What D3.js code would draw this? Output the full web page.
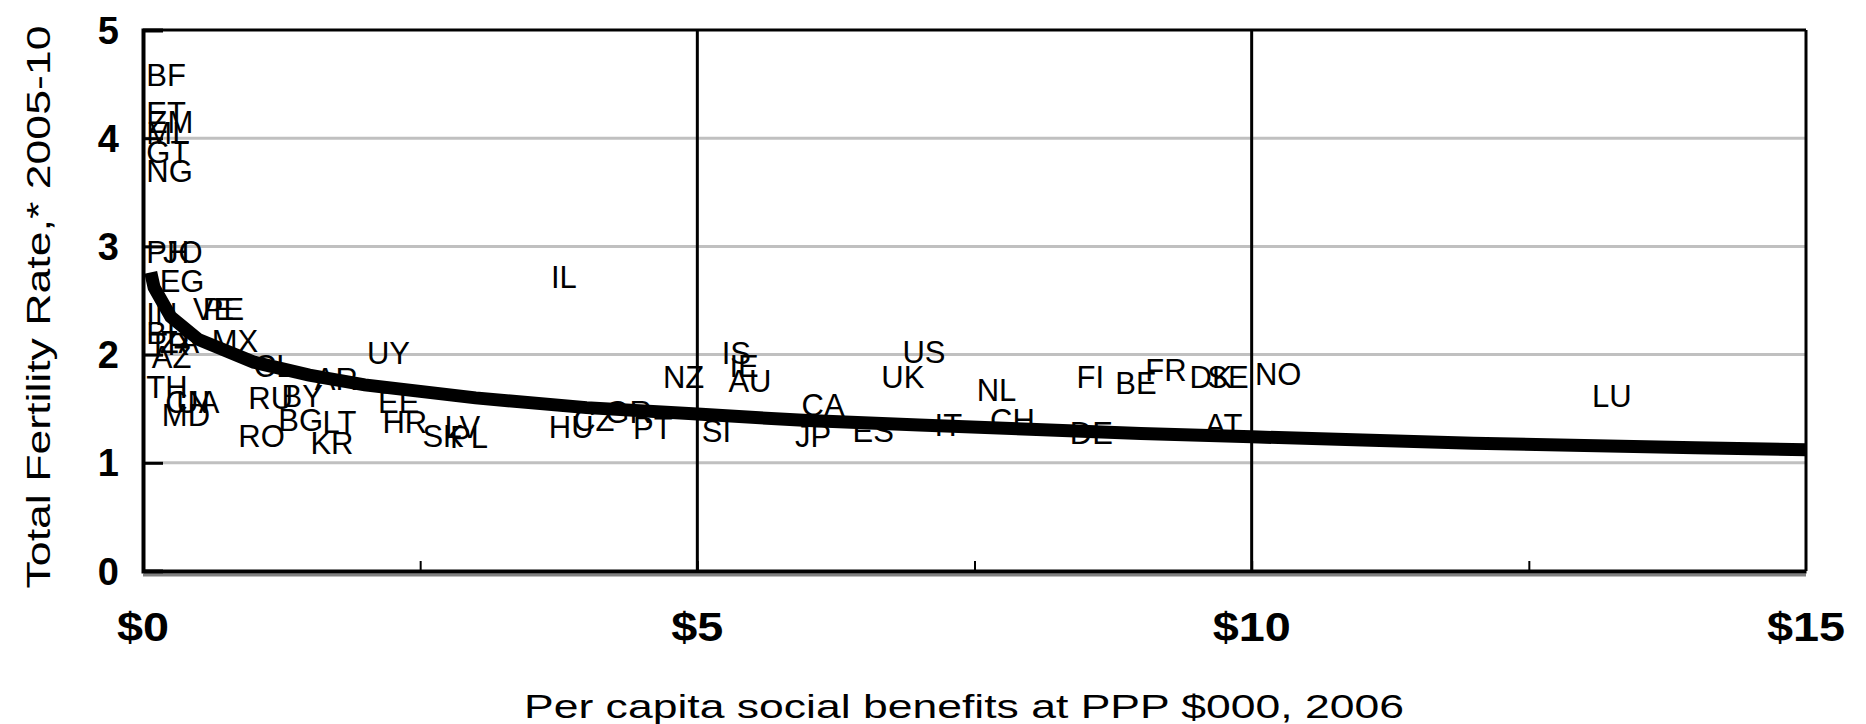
<!DOCTYPE html>
<html>
<head>
<meta charset="utf-8">
<script src="https://cdn.jsdelivr.net/npm/d3@7"></script>
<style>
  body { margin: 0; background: #fff; }
  svg { display: block; }
  text { font-family: "Liberation Sans", Arial, sans-serif; fill: #000; }
</style>
</head>
<body>
<div id="chart"></div>
<script>
// country labels, per capita social benefits ($000 PPP) and total fertility rate
const codes = ["BF","ET","ZM","ML","GT","NG","PH","JO","EG","IN","VE","PE","MX","BR","TR","ZA","AZ","CL","AR","TH","CN","UA","MD","RU","BY","RO","BG","LT","KR","UY","EE","HR","SK","LV","PL","IL","HU","CZ","GR","PT","NZ","IS","IE","AU","SI","CA","JP","ES","UK","US","IT","NL","CH","DE","FI","BE","FR","DK","SE","NO","AT","LU"];
const benefits = [0.03,0.03,0.05,0.03,0.03,0.03,0.03,0.18,0.15,0.03,0.45,0.54,0.62,0.03,0.05,0.15,0.08,1.00,1.55,0.03,0.20,0.30,0.17,0.95,1.25,0.86,1.22,1.62,1.51,2.02,2.12,2.16,2.52,2.72,2.77,3.68,3.66,3.88,4.17,4.42,4.69,5.22,5.29,5.28,5.04,5.94,5.88,6.40,6.66,6.85,7.14,7.52,7.64,8.36,8.42,8.77,9.04,9.44,9.60,10.03,9.58,13.07];
const fertility = [4.59,4.23,4.15,4.05,3.87,3.70,2.95,2.95,2.68,2.38,2.42,2.42,2.13,2.20,2.10,2.12,1.98,1.90,1.78,1.70,1.56,1.56,1.44,1.60,1.62,1.25,1.40,1.38,1.18,2.02,1.56,1.38,1.25,1.33,1.24,2.72,1.33,1.40,1.47,1.32,1.79,2.02,1.90,1.76,1.30,1.54,1.25,1.30,1.79,2.03,1.35,1.67,1.40,1.28,1.79,1.74,1.86,1.79,1.79,1.82,1.35,1.62];

// trend line
const trendX = [0.07,0.1,0.25,0.5,1,1.5,2,3,4,5,6,7,8,9,10,11,12,13,14,15];
const trendY = [2.76,2.62,2.35,2.14,1.93,1.81,1.72,1.60,1.51,1.45,1.39,1.35,1.31,1.27,1.24,1.21,1.18,1.16,1.14,1.12];

const xTickValues = [0, 5, 10, 15];
const xTickLabels = ["$0", "$5", "$10", "$15"];
const xMinorTicks = [2.5, 5, 7.5, 10, 12.5];
const yTickValues = [0, 1, 2, 3, 4, 5];
const xTitle = "Per capita social benefits at PPP $000, 2006";
const yTitle = "Total Fertility Rate,* 2005-10";

const width = 1866, height = 724;
const plotLeft = 143, plotRight = 1806, plotTop = 30, plotBottom = 571;

const svg = d3.select("#chart").append("svg")
    .attr("width", width)
    .attr("height", height);

const x = d3.scaleLinear().domain([0, 15]).range([plotLeft, plotRight]);
const y = d3.scaleLinear().domain([0, 5]).range([plotBottom, plotTop]);

// horizontal gridlines
svg.append("g")
    .selectAll("line")
    .data(yTickValues.filter(v => v > 0 && v < 5))
    .join("line")
    .attr("x1", plotLeft).attr("x2", plotRight)
    .attr("y1", d => y(d)).attr("y2", d => y(d))
    .attr("stroke", "#c0c0c0")
    .attr("stroke-width", 3);

// vertical lines at $5 and $10
svg.append("g")
    .selectAll("line")
    .data([5, 10])
    .join("line")
    .attr("x1", d => x(d)).attr("x2", d => x(d))
    .attr("y1", plotTop).attr("y2", plotBottom)
    .attr("stroke", "#000")
    .attr("stroke-width", 3);

// country labels
svg.append("g")
    .selectAll("text")
    .data(codes.map((c, i) => ({ code: c, bx: benefits[i], fy: fertility[i] })))
    .join("text")
    .attr("x", d => x(d.bx))
    .attr("y", d => y(d.fy))
    .attr("dy", "0.36em")
    .attr("font-size", 31)
    .text(d => d.code);

// trend line
const line = d3.line()
    .x(d => x(d[0]))
    .y(d => y(d[1]));

svg.append("path")
    .datum(trendX.map((v, i) => [v, trendY[i]]))
    .attr("d", line)
    .attr("fill", "none")
    .attr("stroke", "#000")
    .attr("stroke-width", 13);

// frame
svg.append("line")
    .attr("x1", plotLeft).attr("x2", plotRight)
    .attr("y1", plotTop).attr("y2", plotTop)
    .attr("stroke", "#000").attr("stroke-width", 3);
svg.append("line")
    .attr("x1", plotRight).attr("x2", plotRight)
    .attr("y1", plotTop).attr("y2", plotBottom)
    .attr("stroke", "#000").attr("stroke-width", 3);

// y axis
const yAxis = svg.append("g")
    .attr("transform", `translate(${plotLeft},0)`)
    .call(d3.axisRight(y).tickValues(yTickValues).tickSize(20).tickFormat(""));
yAxis.select(".domain").attr("stroke-width", 4);
yAxis.selectAll(".tick line").attr("stroke-width", 3);

svg.append("g")
    .selectAll("text")
    .data(yTickValues)
    .join("text")
    .attr("x", plotLeft - 24)
    .attr("y", d => y(d))
    .attr("dy", "0.36em")
    .attr("text-anchor", "end")
    .attr("font-size", 38)
    .attr("font-weight", "bold")
    .text(d => d);

// x axis
svg.append("line")
    .attr("x1", plotLeft).attr("x2", plotRight)
    .attr("y1", plotBottom + 4).attr("y2", plotBottom + 4)
    .attr("stroke", "#808080").attr("stroke-width", 3);
const xAxis = svg.append("g")
    .attr("transform", `translate(0,${plotBottom})`)
    .call(d3.axisTop(x).tickValues(xMinorTicks).tickSize(10).tickSizeOuter(0).tickFormat(""));
xAxis.select(".domain").attr("stroke-width", 4);
xAxis.selectAll(".tick line").attr("stroke-width", 2);

svg.append("g")
    .selectAll("text")
    .data(xTickValues)
    .join("text")
    .attr("x", d => x(d))
    .attr("y", 627)
    .attr("dy", "0.36em")
    .attr("text-anchor", "middle")
    .attr("font-size", 40)
    .attr("font-weight", "bold")
    .attr("textLength", (d, i) => xTickLabels[i].length * 26)
    .attr("lengthAdjust", "spacingAndGlyphs")
    .text((d, i) => xTickLabels[i]);

// axis titles
svg.append("text")
    .attr("x", 964)
    .attr("y", 706)
    .attr("dy", "0.36em")
    .attr("text-anchor", "middle")
    .attr("font-size", 34)
    .attr("textLength", 880)
    .attr("lengthAdjust", "spacingAndGlyphs")
    .text(xTitle);

svg.append("text")
    .attr("transform", "translate(38,307) rotate(-90)")
    .attr("dy", "0.36em")
    .attr("text-anchor", "middle")
    .attr("font-size", 34)
    .attr("textLength", 563)
    .attr("lengthAdjust", "spacingAndGlyphs")
    .text(yTitle);
</script>
</body>
</html>
